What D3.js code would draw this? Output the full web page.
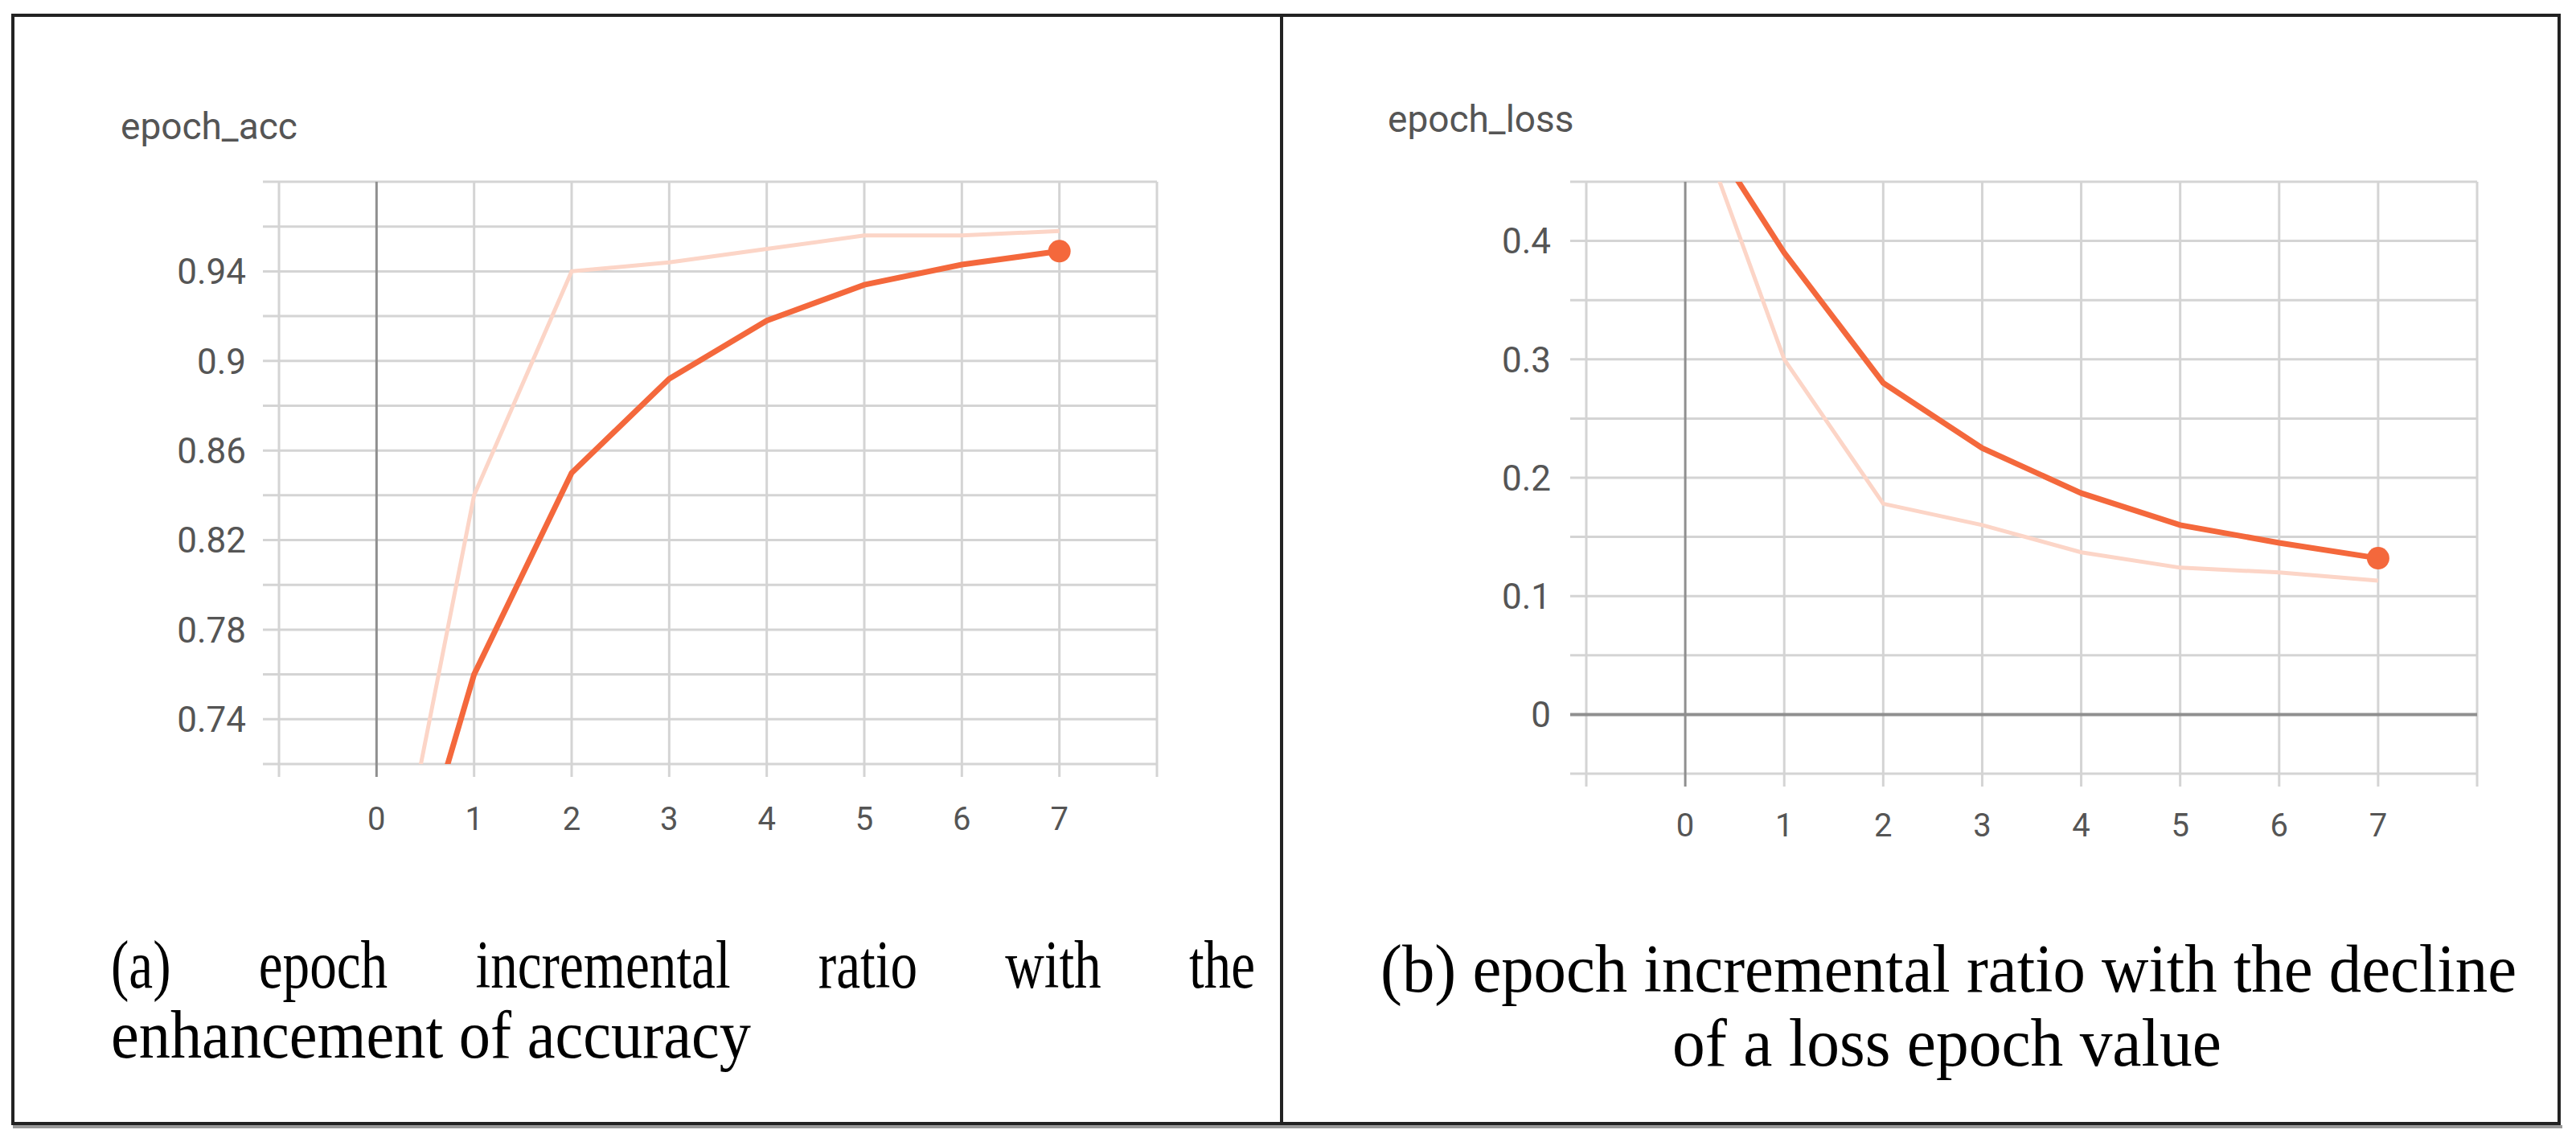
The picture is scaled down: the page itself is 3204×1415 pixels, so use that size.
<!DOCTYPE html>
<html><head><meta charset="utf-8">
<script src="https://cdn.jsdelivr.net/npm/d3@7"></script>
<style>body{margin:0;background:#fff}svg{display:block}</style>
</head><body>
<svg id="chart" width="3204" height="1415"></svg>
<script>
// ===== Data =====
const epochs = [0, 1, 2, 3, 4, 5, 6, 7];
const accSmoothed = [0.612, 0.76, 0.85, 0.892, 0.918, 0.934, 0.943, 0.949];
const accRaw = [0.62, 0.84, 0.94, 0.944, 0.95, 0.956, 0.956, 0.958];
const lossSmoothed = [0.52, 0.39, 0.28, 0.225, 0.187, 0.16, 0.145, 0.132];
const lossRaw = [0.53, 0.30, 0.178, 0.16, 0.137, 0.124, 0.12, 0.113];
const accTicks = [0.74, 0.78, 0.82, 0.86, 0.9, 0.94];
const lossTicks = [0, 0.1, 0.2, 0.3, 0.4];
const xTicks = [0, 1, 2, 3, 4, 5, 6, 7];

const svg = d3.select("#chart");
const dark = "#f4683c", light = "#fcd5c7", grid = "#d4d4d4", zero = "#8f8f8f";
const tickFont = "Roboto, sans-serif";

function panel(o) {
  const x = d3.scaleLinear().domain([-1, 8]).range([o.x0, o.x1]);
  const y = d3.scaleLinear().domain(o.yDomain).range([o.y1, o.y0]);
  const g = svg.append("g");
  const clipId = "clip" + o.id;
  svg.append("clipPath").attr("id", clipId).append("rect")
    .attr("x", o.x0 - 20).attr("y", o.y0).attr("width", o.x1 - o.x0 + 40).attr("height", o.y1 - o.y0);

  const hs = d3.range(o.yDomain[0], o.yDomain[1] + o.step / 2, o.step);
  g.selectAll(".h").data(hs).join("line")
    .attr("x1", o.x0 - 20).attr("x2", o.x1)
    .attr("y1", d => y(d)).attr("y2", d => y(d))
    .attr("stroke", d => Math.abs(d) < 1e-9 ? zero : grid).attr("stroke-width", d => Math.abs(d) < 1e-9 ? 4 : 3);
  g.selectAll(".v").data(d3.range(-1, 9)).join("line")
    .attr("x1", d => x(d)).attr("x2", d => x(d))
    .attr("y1", o.y0).attr("y2", o.y1 + 16)
    .attr("stroke", d => d === 0 ? zero : grid).attr("stroke-width", 3);
  g.selectAll("line").filter(function () { return this.getAttribute("stroke") === zero; }).raise();

  g.selectAll(".yl").data(o.yTicks).join("text")
    .attr("x", o.labelX).attr("y", d => y(d)).attr("dy", "0.36em")
    .attr("text-anchor", "end").attr("font-family", tickFont)
    .attr("font-size", 44).attr("fill", "#555").text(d => String(d));
  g.selectAll(".xl").data(xTicks).join("text")
    .attr("x", d => x(d)).attr("y", o.xLabelY).attr("dy", "0.36em")
    .attr("text-anchor", "middle").attr("font-family", tickFont)
    .attr("font-size", 40).attr("fill", "#555").text(d => d);
  g.append("text").attr("x", o.titleX).attr("y", o.titleY).attr("dy", "0.36em")
    .attr("font-family", tickFont).attr("font-size", 46).attr("fill", "#555").text(o.title);

  const line = d3.line().x((d, i) => x(epochs[i])).y(d => y(d));
  const lg = g.append("g").attr("clip-path", `url(#${clipId})`);
  lg.append("path").attr("d", line(o.raw)).attr("fill", "none").attr("stroke", light).attr("stroke-width", 5);
  lg.append("path").attr("d", line(o.smooth)).attr("fill", "none").attr("stroke", dark).attr("stroke-width", 7);
  g.append("circle").attr("cx", x(7)).attr("cy", y(o.smooth[7])).attr("r", 14).attr("fill", dark);
}

panel({ id: "a", x0: 347, x1: 1439, y0: 226, y1: 950, yDomain: [0.72, 0.98], step: 0.02,
  yTicks: accTicks, raw: accRaw, smooth: accSmoothed, labelX: 306, xLabelY: 1018,
  title: "epoch_acc", titleX: 150, titleY: 156 });
panel({ id: "b", x0: 1973, x1: 3081, y0: 226, y1: 962, yDomain: [-0.05, 0.45], step: 0.05,
  yTicks: lossTicks, raw: lossRaw, smooth: lossSmoothed, labelX: 1929, xLabelY: 1026,
  title: "epoch_loss", titleX: 1726, titleY: 147 });

// ===== Frame =====
svg.append("rect").attr("x", 16).attr("y", 19).attr("width", 3167).attr("height", 1378)
  .attr("fill", "none").attr("stroke", "#222").attr("stroke-width", 4);
svg.append("line").attr("x1", 16).attr("x2", 3187).attr("y1", 1401).attr("y2", 1401).attr("stroke", "#999").attr("stroke-width", 4);
svg.append("line").attr("x1", 1594).attr("x2", 1594).attr("y1", 19).attr("y2", 1397).attr("stroke", "#222").attr("stroke-width", 4);

// ===== Captions =====
const capFont = "'Liberation Serif', 'Times New Roman', serif";
const capSize = 84;
function justified(words, x0, x1, yy) {
  const sx = 0.8;
  const ts = words.map(w => svg.append("text").attr("x", 0).attr("y", yy).attr("font-family", capFont)
    .attr("font-size", capSize).attr("fill", "#000").text(w));
  const widths = ts.map(t => t.node().getComputedTextLength() * sx);
  const gap = (x1 - x0 - d3.sum(widths)) / (words.length - 1);
  let cx = x0;
  ts.forEach((t, i) => {
    t.attr("transform", `translate(${cx},0) scale(${sx},1)`);
    cx += widths[i] + gap;
  });
}
function fitted(txt, x0, len, yy) {
  svg.append("text").attr("x", x0).attr("y", yy).attr("font-family", capFont).attr("font-size", capSize)
    .attr("textLength", len).attr("lengthAdjust", "spacingAndGlyphs").text(txt);
}
justified(["(a)", "epoch", "incremental", "ratio", "with", "the"], 138, 1561, 1228);
fitted("enhancement of accuracy", 138, 796, 1315);
fitted("(b) epoch incremental ratio with the decline", 1717, 1413, 1233);
fitted("of a loss epoch value", 2080, 683, 1325);
</script>
</body></html>
